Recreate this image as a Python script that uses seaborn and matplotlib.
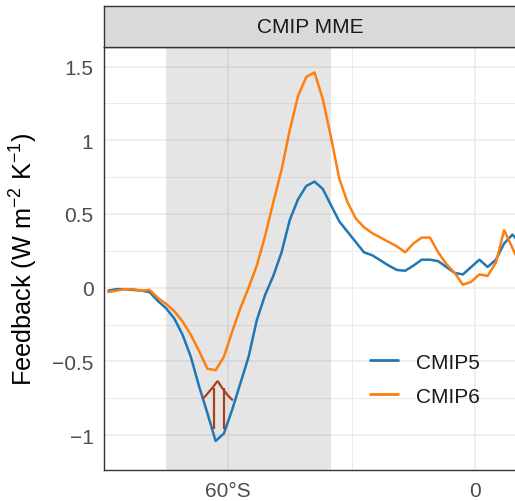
import matplotlib
matplotlib.use("Agg")
import matplotlib.pyplot as plt
from matplotlib.path import Path
from matplotlib.patches import PathPatch
import numpy as np
import pandas as pd
import seaborn as sns

# ---------------- data ----------------
lat = list(range(-89, 12, 2))
cmip5 = [-0.02, -0.01, -0.01, -0.015, -0.02, -0.03, -0.09, -0.14, -0.21, -0.32,
         -0.47, -0.67, -0.85, -1.04,
         -0.99, -0.83, -0.65, -0.47, -0.22, -0.05, 0.08, 0.24, 0.46, 0.60, 0.69, 0.72,
         0.67, 0.56, 0.45, 0.38, 0.31, 0.24, 0.22, 0.185, 0.15, 0.12, 0.115,
         0.15, 0.19, 0.19, 0.18, 0.14, 0.10, 0.09, 0.14, 0.19, 0.14, 0.19, 0.30, 0.36, 0.30]
cmip6 = [-0.03, -0.02, -0.01, -0.01, -0.02, -0.015, -0.07, -0.11, -0.16, -0.23,
         -0.32, -0.43, -0.55, -0.56,
         -0.47, -0.30, -0.14, 0.0, 0.15, 0.35, 0.58, 0.80, 1.07, 1.30, 1.43, 1.46,
         1.28, 1.02, 0.74, 0.58, 0.47, 0.41, 0.37, 0.34, 0.31, 0.28, 0.24,
         0.30, 0.34, 0.34, 0.24, 0.16, 0.10, 0.02, 0.04, 0.09, 0.08, 0.17, 0.39, 0.27, 0.15]
models = ["CMIP5", "CMIP6"]
colors = ["#1f77b4", "#ff7f0e"]
panel_title = "CMIP MME"
shade_range = [-75, -35]
xticks = [-60, 0]
xticklabels = ["60°S", "0"]
yticks = [-1, -0.5, 0, 0.5, 1, 1.5]
yticklabels = ["\u22121", "\u22120.5", "0", "0.5", "1", "1.5"]
# arrow annotation (data coords)
arrow_tip = (-62.52, -0.632)
arrow_wings_x = [-66.2, -58.8]
arrow_wings_y = [-0.755, -0.765]
arrow_wings_ctrl_x = [-64.6, -60.5]
arrow_wings_ctrl_y = [-0.715, -0.725]
arrow_shafts_x = [-63.49, -61.07]
arrow_shaft_y = [-0.96, -0.68]
arrow_color = "#A8401C"

df = pd.DataFrame({
    "lat": lat * 2,
    "Feedback": cmip5 + cmip6,
    "Model": [models[0]] * len(lat) + [models[1]] * len(lat),
})

# ---------------- style ----------------
sns.set_theme(style="white")
plt.rcParams["font.family"] = ["Liberation Sans", "DejaVu Sans"]
plt.rcParams["mathtext.fontset"] = "custom"
plt.rcParams["mathtext.rm"] = "Liberation Sans"
plt.rcParams["mathtext.it"] = "Liberation Sans:italic"

W, H = 515, 502
fig = plt.figure(figsize=(W / 100, H / 100), dpi=100)
ax_l, ax_r = 104.3 / W, 516.5 / W
ax_b, ax_t = 1 - 470.7 / H, 1 - 48.3 / H
ax = fig.add_axes([ax_l, ax_b, ax_r - ax_l, ax_t - ax_b])
ax.set_facecolor("white")

ax.set_xlim(-90, 10)
ax.set_ylim(-1.235, 1.631)

# grid
ax.set_axisbelow(True)
ax.set_xticks(xticks)
ax.set_xticks([-30], minor=True)
ax.set_yticks(yticks)
ax.set_yticks([-0.75, -0.25, 0.25, 0.75, 1.25], minor=True)
ax.grid(which="major", color="#EBEBEB", lw=1.1)
ax.grid(which="minor", color="#EBEBEB", lw=0.7)

ax.axvspan(shade_range[0], shade_range[1], color="grey", alpha=0.2, lw=0, zorder=1)

sns.lineplot(data=df, x="lat", y="Feedback", hue="Model", palette=colors,
             lw=1.8, ax=ax, zorder=3, sort=False)

# arrows (two shafts sharing an open head with slightly flared wings)
for sx in arrow_shafts_x:
    ax.plot([sx, sx], arrow_shaft_y, color=arrow_color, lw=1.6, zorder=4,
            solid_capstyle="butt")
for wx, wy, cx, cy in zip(arrow_wings_x, arrow_wings_y,
                          arrow_wings_ctrl_x, arrow_wings_ctrl_y):
    p = Path([arrow_tip, (cx, cy), (wx, wy)],
             [Path.MOVETO, Path.CURVE3, Path.CURVE3])
    ax.add_patch(PathPatch(p, fill=False, edgecolor=arrow_color, lw=1.6, zorder=4,
                           capstyle="butt", joinstyle="miter"))

ax.set_xticklabels(xticklabels)
ax.set_yticklabels(yticklabels)
ax.tick_params(axis="both", which="major", length=4.3, width=0.9, color="#333333",
               labelsize=15, labelcolor="#4D4D4D", pad=3.5)
ax.tick_params(axis="both", which="minor", length=0)
ax.set_xlabel("")
ax.set_ylabel("")
for s in ax.spines.values():
    s.set_color("#333333")
    s.set_linewidth(1.0)

leg = ax.legend(loc="center left", bbox_to_anchor=(0.600, 0.2147), frameon=False,
                fontsize=15, handlelength=1.35, handletextpad=0.82, labelspacing=0.72,
                title=None)
for line in leg.get_lines():
    line.set_linewidth(2.0)
for t in leg.get_texts():
    t.set_color("#1A1A1A")

# strip
st_b, st_t = 1 - 48.3 / H, 1 - 6.7 / H
sax = fig.add_axes([ax_l, st_b, ax_r - ax_l, st_t - st_b])
sax.set_facecolor("#D9D9D9")
sax.set_xticks([])
sax.set_yticks([])
for s in sax.spines.values():
    s.set_color("#333333")
    s.set_linewidth(1.0)
sax.text(0.5, 0.5, panel_title, ha="center", va="center", fontsize=15,
         color="#1A1A1A", transform=sax.transAxes)

fig.text(24 / W, (ax_b + ax_t) / 2, r"Feedback (W m$^{-2}$ K$^{-1}$)", rotation=90,
         ha="center", va="center", fontsize=18.2, color="black")

fig.savefig("out.png", dpi=100)
